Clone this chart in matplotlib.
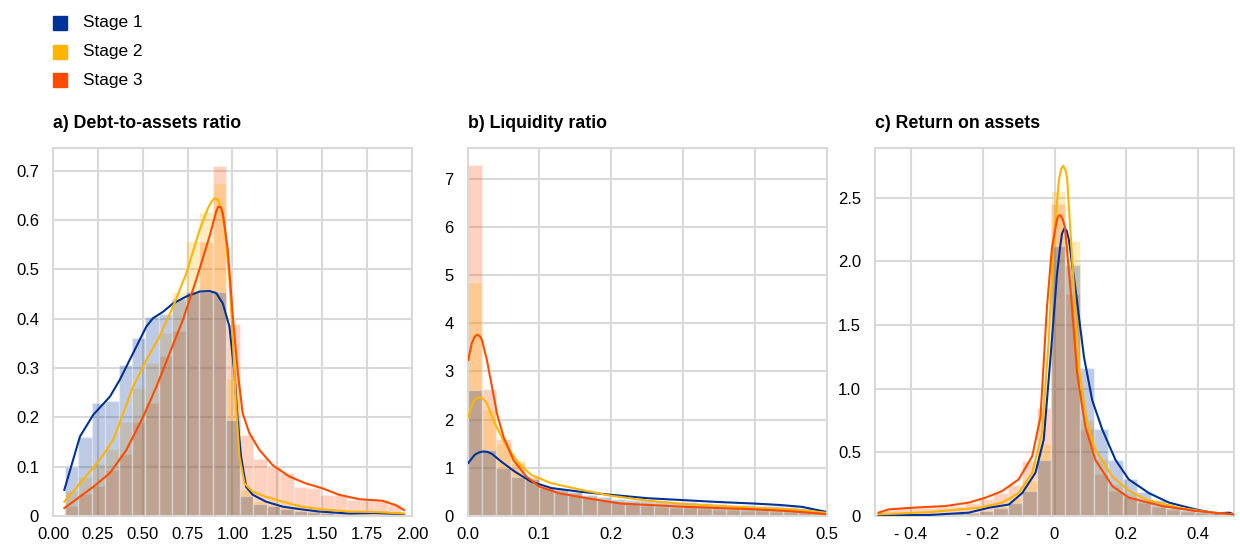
import numpy as np
import matplotlib
matplotlib.use("Agg")
import matplotlib.pyplot as plt

plt.rcParams['font.family'] = ['Liberation Sans', 'DejaVu Sans']

# Colours / labels
stages = ['Stage 1', 'Stage 2', 'Stage 3']
colors = ['#003299', '#FFB400', '#FF4B00']

# ---------------- a) Debt-to-assets ratio ----------------
a_edges = np.linspace(0.065, 1.94, 26)
a_hist = [
    [0.099, 0.161, 0.23, 0.234, 0.306, 0.36, 0.404, 0.41, 0.44, 0.455, 0.455, 0.455, 0.195,
     0.04, 0.025, 0.02, 0.015, 0.01, 0.008, 0.006, 0.005, 0.004, 0.004, 0.003, 0.003],
    [0.05, 0.08, 0.105, 0.135, 0.19, 0.26, 0.31, 0.37, 0.455, 0.558, 0.617, 0.675, 0.28,
     0.055, 0.03, 0.025, 0.02, 0.012, 0.01, 0.008, 0.006, 0.005, 0.005, 0.004, 0.004],
    [0.02, 0.045, 0.06, 0.093, 0.125, 0.19, 0.23, 0.325, 0.375, 0.455, 0.556, 0.71, 0.39,
     0.165, 0.115, 0.1, 0.087, 0.058, 0.057, 0.043, 0.043, 0.032, 0.032, 0.032, 0.024],
]
a_kde_x = [
    [0.063, 0.15, 0.224, 0.317, 0.372, 0.446, 0.52, 0.557, 0.613, 0.669, 0.743, 0.817, 0.872,
     0.909, 0.946, 0.983, 1.011, 1.03, 1.048, 1.076, 1.113, 1.187, 1.28, 1.372, 1.483, 1.65,
     1.78, 1.956],
    [0.063, 0.15, 0.261, 0.335, 0.391, 0.446, 0.52, 0.594, 0.669, 0.743, 0.817, 0.863, 0.885,
     0.9, 0.915, 0.928, 0.956, 0.983, 1.002, 1.02, 1.039, 1.067, 1.113, 1.187, 1.28, 1.372,
     1.483, 1.65, 1.8, 1.956],
    [0.063, 0.224, 0.317, 0.409, 0.502, 0.576, 0.65, 0.724, 0.798, 0.872, 0.909, 0.92, 0.935,
     0.946, 0.974, 1.002, 1.03, 1.057, 1.094, 1.15, 1.224, 1.317, 1.409, 1.502, 1.594, 1.706,
     1.835, 1.909, 1.956],
]
a_kde_y = [
    [0.053, 0.161, 0.205, 0.242, 0.276, 0.33, 0.384, 0.401, 0.414, 0.431, 0.445, 0.455, 0.456,
     0.452, 0.431, 0.384, 0.289, 0.188, 0.12, 0.059, 0.043, 0.029, 0.019, 0.014, 0.009, 0.005,
     0.006, 0.004],
    [0.029, 0.066, 0.114, 0.154, 0.208, 0.262, 0.316, 0.364, 0.425, 0.492, 0.58, 0.624, 0.638,
     0.644, 0.642, 0.634, 0.587, 0.479, 0.357, 0.222, 0.12, 0.066, 0.049, 0.039, 0.029, 0.02,
     0.014, 0.009, 0.008, 0.005],
    [0.016, 0.059, 0.087, 0.134, 0.201, 0.262, 0.33, 0.398, 0.479, 0.567, 0.617, 0.627, 0.626,
     0.614, 0.54, 0.404, 0.289, 0.208, 0.168, 0.134, 0.103, 0.08, 0.066, 0.056, 0.043, 0.034,
     0.031, 0.022, 0.012],
]
a_xticks = [0, 0.25, 0.5, 0.75, 1.0, 1.25, 1.5, 1.75, 2.0]
a_xlabels = ['0.00', '0.25', '0.50', '0.75', '1.00', '1.25', '1.50', '1.75', '2.00']
a_yticks = [0, 0.1, 0.2, 0.3, 0.4, 0.5, 0.6, 0.7]
a_ylabels = ['0', '0.1', '0.2', '0.3', '0.4', '0.5', '0.6', '0.7']

# ---------------- b) Liquidity ratio ----------------
b_edges = np.linspace(0.0, 0.5, 26)
b_hist = [
    [2.62, 1.37, 0.99, 0.82, 0.76, 0.58, 0.56, 0.5, 0.44, 0.4, 0.36, 0.34, 0.33, 0.31, 0.3,
     0.29, 0.27, 0.25, 0.23, 0.22, 0.21, 0.2, 0.18, 0.16, 0.12],
    [4.85, 2.22, 1.51, 1.16, 0.82, 0.62, 0.55, 0.5, 0.42, 0.36, 0.32, 0.28, 0.26, 0.24, 0.22,
     0.21, 0.2, 0.18, 0.17, 0.16, 0.15, 0.14, 0.13, 0.12, 0.1],
    [7.28, 2.63, 1.6, 1.1, 0.8, 0.6, 0.5, 0.45, 0.38, 0.32, 0.28, 0.24, 0.21, 0.19, 0.17,
     0.16, 0.14, 0.13, 0.12, 0.11, 0.1, 0.09, 0.08, 0.07, 0.05],
]
b_kde_x = [
    [0.001, 0.01, 0.016, 0.022, 0.028, 0.034, 0.047, 0.066, 0.089, 0.117, 0.159, 0.2, 0.25,
     0.3, 0.35, 0.397, 0.434, 0.466, 0.498],
    [0.001, 0.008, 0.013, 0.017, 0.022, 0.027, 0.038, 0.052, 0.071, 0.089, 0.117, 0.159, 0.2,
     0.25, 0.3, 0.35, 0.4, 0.45, 0.498],
    [0.001, 0.006, 0.01, 0.013, 0.017, 0.02, 0.027, 0.034, 0.041, 0.05, 0.064, 0.082, 0.1,
     0.128, 0.166, 0.212, 0.304, 0.397, 0.45, 0.498],
]
b_kde_y = [
    [1.1, 1.27, 1.32, 1.34, 1.33, 1.29, 1.13, 0.92, 0.71, 0.58, 0.5, 0.44, 0.37, 0.33, 0.29,
     0.26, 0.23, 0.19, 0.09],
    [2.06, 2.38, 2.45, 2.47, 2.43, 2.34, 1.93, 1.51, 1.1, 0.85, 0.68, 0.54, 0.42, 0.32, 0.25,
     0.21, 0.17, 0.14, 0.07],
    [3.24, 3.59, 3.72, 3.76, 3.74, 3.66, 3.24, 2.69, 2.13, 1.65, 1.16, 0.82, 0.61, 0.47, 0.37,
     0.26, 0.19, 0.14, 0.1, 0.04],
]
b_xticks = [0, 0.1, 0.2, 0.3, 0.4, 0.5]
b_xlabels = ['0.0', '0.1', '0.2', '0.3', '0.4', '0.5']
b_yticks = [0, 1, 2, 3, 4, 5, 6, 7]
b_ylabels = ['0', '1', '2', '3', '4', '5', '6', '7']

# ---------------- c) Return on assets ----------------
c_edges = np.linspace(-0.49, 0.51, 26)
c_hist = [
    [0.005, 0.008, 0.01, 0.01, 0.015, 0.02, 0.025, 0.04, 0.06, 0.1, 0.2, 0.44, 2.12, 1.97,
     1.16, 0.68, 0.44, 0.29, 0.19, 0.125, 0.065, 0.05, 0.03, 0.02, 0.015],
    [0.008, 0.01, 0.01, 0.015, 0.02, 0.025, 0.03, 0.05, 0.08, 0.15, 0.28, 0.574, 2.55, 2.16,
     0.75, 0.45, 0.25, 0.18, 0.12, 0.08, 0.06, 0.04, 0.03, 0.02, 0.01],
    [0.05, 0.06, 0.06, 0.065, 0.07, 0.08, 0.1, 0.13, 0.18, 0.24, 0.43, 0.85, 2.45, 1.74,
     0.68, 0.33, 0.2, 0.15, 0.1, 0.07, 0.05, 0.035, 0.02, 0.015, 0.01],
]
c_kde_x = [
    [-0.49, -0.35, -0.239, -0.183, -0.127, -0.09, -0.053, -0.03, -0.011, 0.007, 0.016, 0.021,
     0.028, 0.034, 0.04, 0.059, 0.082, 0.105, 0.133, 0.17, 0.207, 0.263, 0.319, 0.393, 0.449,
     0.487, 0.5],
    [-0.49, -0.35, -0.21, -0.146, -0.1, -0.062, -0.035, -0.016, -0.002, 0.012, 0.018, 0.024,
     0.03, 0.035, 0.049, 0.068, 0.091, 0.114, 0.161, 0.207, 0.254, 0.347, 0.44, 0.5],
    [-0.49, -0.462, -0.397, -0.304, -0.239, -0.192, -0.146, -0.1, -0.062, -0.039, -0.021,
     -0.007, 0.007, 0.012, 0.017, 0.023, 0.029, 0.045, 0.063, 0.086, 0.114, 0.161, 0.207,
     0.3, 0.393, 0.5],
]
c_kde_y = [
    [0.005, 0.008, 0.026, 0.065, 0.09, 0.18, 0.34, 0.6, 1.25, 1.9, 2.12, 2.22, 2.26, 2.24,
     2.17, 1.77, 1.25, 0.91, 0.68, 0.44, 0.287, 0.18, 0.105, 0.052, 0.021, 0.026, 0.013],
    [0.013, 0.03, 0.065, 0.105, 0.18, 0.34, 0.65, 1.38, 2.17, 2.63, 2.72, 2.75, 2.72, 2.66,
     2.03, 1.17, 0.73, 0.52, 0.31, 0.2, 0.13, 0.065, 0.026, 0.013],
    [0.026, 0.052, 0.065, 0.078, 0.105, 0.144, 0.196, 0.287, 0.47, 0.78, 1.64, 2.11, 2.33,
     2.36, 2.36, 2.33, 2.27, 1.77, 1.12, 0.7, 0.44, 0.235, 0.144, 0.078, 0.039, 0.013],
]
c_xticks = [-0.4, -0.2, 0, 0.2, 0.4]
c_xlabels = ['- 0.4', '- 0.2', '0', '0.2', '0.4']
c_yticks = [0, 0.5, 1.0, 1.5, 2.0, 2.5]
c_ylabels = ['0', '0.5', '1.0', '1.5', '2.0', '2.5']

panels = [
    dict(title='a) Debt-to-assets ratio', edges=a_edges, hist=a_hist, kx=a_kde_x, ky=a_kde_y,
         xlim=(0, 2.0), ylim=(0, 0.746), xt=a_xticks, xl=a_xlabels, yt=a_yticks, yl=a_ylabels,
         left=53),
    dict(title='b) Liquidity ratio', edges=b_edges, hist=b_hist, kx=b_kde_x, ky=b_kde_y,
         xlim=(0, 0.5), ylim=(0, 7.64), xt=b_xticks, xl=b_xlabels, yt=b_yticks, yl=b_ylabels,
         left=467.5),
    dict(title='c) Return on assets', edges=c_edges, hist=c_hist, kx=c_kde_x, ky=c_kde_y,
         xlim=(-0.5, 0.5), ylim=(0, 2.89), xt=c_xticks, xl=c_xlabels, yt=c_yticks, yl=c_ylabels,
         left=875),
]

W, H = 1240, 559
fig = plt.figure(figsize=(W / 100, H / 100), dpi=100)
grid_col = '#d9d9d9'

for p in panels:
    ax = fig.add_axes([p['left'] / W, 1 - 516 / H, 359 / W, (516 - 148) / H])
    edges = p['edges']
    width = edges[1] - edges[0]
    # stage 3 first, stage 1 on top -> brownish overlap like the original
    for s in [2, 1, 0]:
        ax.bar(edges[:-1], p['hist'][s], width=width, align='edge', color=colors[s],
               alpha=0.25, edgecolor='white', linewidth=1.0, zorder=2)
    for s in range(3):
        ax.plot(p['kx'][s], p['ky'][s], color=colors[s], linewidth=1.5, zorder=3)
    ax.set_xlim(*p['xlim'])
    ax.set_ylim(*p['ylim'])
    ax.set_xticks(p['xt'])
    ax.set_xticklabels(p['xl'])
    ax.set_yticks(p['yt'])
    ax.set_yticklabels(p['yl'])
    ax.tick_params(length=0, labelsize=12, pad=8)
    ax.tick_params(axis='y', pad=10)
    ax.grid(True, color=grid_col, linewidth=1.5, zorder=0)
    ax.set_axisbelow(True)
    for sp in ax.spines.values():
        sp.set_color(grid_col)
        sp.set_linewidth(1.5)
    fig.text(p['left'] / W, 1 - 123 / H, p['title'], fontsize=12.8, fontweight='bold',
             va='center', ha='left')

# legend squares
for i, (lab, col) in enumerate(zip(stages, colors)):
    yc = 23 + i * 28.7
    fig.patches.append(plt.Rectangle((53 / W, 1 - (yc + 7) / H), 14 / W, 14 / H,
                                     color=col, transform=fig.transFigure, figure=fig))
    fig.text(83 / W, 1 - yc / H, lab, fontsize=12.4, va='center', ha='left')

fig.savefig('out.png', dpi=100)
